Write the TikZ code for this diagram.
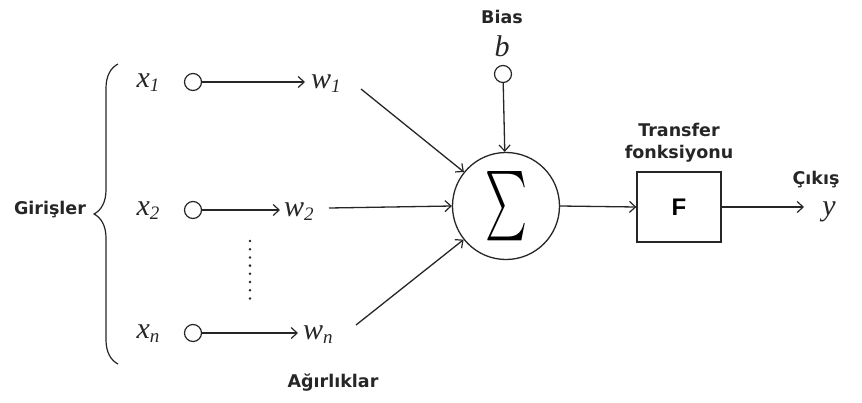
\documentclass[tikz,border=0pt]{standalone}
\usepackage{fontspec}
\usepackage{graphicx}
\setmainfont{Liberation Serif}
\newfontfamily\labfont{DejaVu Sans}
\newfontfamily\ffont{Liberation Sans}
\usetikzlibrary{arrows.meta,decorations.pathreplacing}
\definecolor{ink}{HTML}{262626}
\newcommand{\vv}[2]{\fontsize{30}{32}\selectfont\itshape #1\raisebox{-0.3ex}{\fontsize{19}{20}\selectfont #2}}
\begin{document}
\begin{tikzpicture}[x=1pt,y=-1pt,
  lab/.style={font=\labfont\bfseries\fontsize{17.5}{21}\selectfont, text=ink, inner sep=0pt},
  var/.style={text=ink, inner sep=0pt},
  incirc/.style={draw=ink, line width=1.2pt, circle, minimum size=17pt, inner sep=0pt},
  conn/.style={draw=ink, line width=1.3pt, -{Straight Barb[length=6pt,width=11pt,line width=1.2pt]}},
  plain/.style={draw=ink, line width=1.3pt}]
\useasboundingbox (0,0) rectangle (862,402);
% inputs
\node[var] (x1) at (148,83) {\vv{x}{1}};
\node[var] (x2) at (148,211) {\vv{x}{2}};
\node[var] (xn) at (148,334) {\vv{x}{n}};
\node[incirc] (c1) at (193,82) {};
\node[incirc] (c2) at (193,210) {};
\node[incirc] (cn) at (193,333) {};
\node[var, anchor=west] (w1) at (311,84) {\vv{w}{1}};
\node[var, anchor=west] (w2) at (284,212) {\vv{w}{2}};
\node[var, anchor=west] (wn) at (303,335) {\vv{w}{n}};
\coordinate (t1) at (305,82);
\coordinate (t2) at (280,210);
\coordinate (tn) at (298,333);
\draw[conn] (c1) -- (t1);
\draw[conn] (c2) -- (t2);
\draw[conn] (cn) -- (tn);
% dots
\foreach \k in {0,...,7} \fill[ink] (250,241+8.2*\k) circle (1.4pt);
% brace
\coordinate (bb) at (118,364);
\coordinate (bt) at (118,64);
\draw[ink, line width=1.2pt, decorate, decoration={brace, amplitude=24pt}] (bb) -- (bt);
\node[lab] (gir) at (50,210) {Girişler};
% sum
\node[draw=ink, line width=1.3pt, circle, minimum size=107pt, inner sep=0pt] (sum) at (506,206) {\resizebox{42pt}{52pt}{$\sum$}};
\node[lab] (bias) at (502,17) {Bias};
\node[var] (b) at (502,46) {\fontsize{30}{32}\selectfont\itshape b};
\node[incirc] (cb) at (503,74) {};
\draw[conn] (cb) -- (sum);
\coordinate (w1s) at (361,89);
\coordinate (w2s) at (329,208);
\coordinate (wns) at (356,325);
\draw[conn] (w1s) -- (sum);
\draw[conn] (w2s) -- (sum.west);
\draw[conn] (wns) -- (sum);
% transfer
\node[draw=ink, line width=1.3pt, minimum width=84pt, minimum height=70pt, inner sep=0pt] (F) at (679,207) {\ffont\bfseries\fontsize{24}{26}\selectfont F};
\draw[conn] (sum.east) -- (F.west);
\node[lab, align=center] (tf) at (679,143) {Transfer\\[1pt]fonksiyonu};
\node[var] (y) at (829,212) {\fontsize{30}{32}\selectfont\itshape y};
\coordinate (ty) at (804,207);
\draw[conn] (F.east) -- (ty);
\node[lab] (cik) at (816,180) {Çıkış};
\node[lab] (agr) at (333,383) {Ağırlıklar};
\end{tikzpicture}
\end{document}
